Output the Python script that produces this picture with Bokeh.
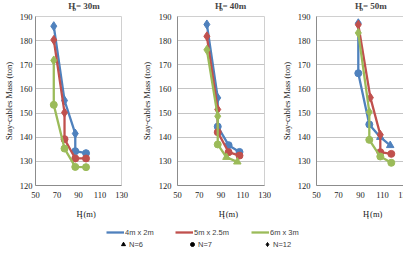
from bokeh.embed import file_html
from bokeh.layouts import column, row
from bokeh.models import ColumnDataSource, Label, Legend, LegendItem, Range1d
from bokeh.plotting import figure
from bokeh.resources import INLINE

# ---- data: tower height H_t (m), stay-cable mass (ton), number of cables N ----
series_names = ["4m x 2m", "5m x 2.5m", "6m x 3m"]
series_colors = ["#4F81BD", "#C0504D", "#9BBB59"]
hb_values = ["30m", "40m", "50m"]

# H_b = 30m
ht_30_4x2 = [67, 77, 87, 87, 97]
mass_30_4x2 = [186.0, 155.2, 141.5, 134.2, 133.4]
n_30_4x2 = [12, 12, 12, 7, 7]
ht_30_5x25 = [67, 77, 77, 87, 97]
mass_30_5x25 = [180.3, 150.2, 139.2, 131.2, 131.2]
n_30_5x25 = [12, 12, 7, 7, 7]
ht_30_6x3 = [67, 67, 77, 87, 97]
mass_30_6x3 = [171.8, 153.4, 135.3, 127.7, 127.6]
n_30_6x3 = [12, 7, 7, 7, 7]

# H_b = 40m
ht_40_4x2 = [77, 87, 87, 97, 107]
mass_40_4x2 = [186.7, 156.3, 144.4, 136.7, 133.9]
n_40_4x2 = [12, 12, 7, 7, 7]
ht_40_5x25 = [77, 87, 87, 97, 107]
mass_40_5x25 = [181.8, 151.5, 142.1, 133.8, 132.4]
n_40_5x25 = [12, 12, 7, 7, 7]
ht_40_6x3 = [77, 87, 87, 95, 105]
mass_40_6x3 = [176.2, 148.7, 137.0, 131.7, 129.8]
n_40_6x3 = [12, 12, 7, 6, 6]

# H_b = 50m
ht_50_4x2 = [88, 88, 98, 108, 117]
mass_50_4x2 = [187.2, 166.5, 145.3, 140.0, 136.6]
n_50_4x2 = [12, 7, 7, 6, 6]
ht_50_5x25 = [88, 99, 108, 108, 118]
mass_50_5x25 = [186.6, 156.4, 141.0, 133.8, 133.1]
n_50_5x25 = [12, 12, 12, 7, 7]
ht_50_6x3 = [88, 98, 98, 108, 118]
mass_50_6x3 = [183.2, 150.4, 138.9, 132.0, 129.4]
n_50_6x3 = [12, 12, 7, 7, 7]

x_ticks = [50, 70, 90, 110, 130]
y_ticks = [120, 130, 140, 150, 160, 170, 180, 190]
n_values = [6, 7, 12]

panels = [
    [(ht_30_4x2, mass_30_4x2, n_30_4x2), (ht_30_5x25, mass_30_5x25, n_30_5x25), (ht_30_6x3, mass_30_6x3, n_30_6x3)],
    [(ht_40_4x2, mass_40_4x2, n_40_4x2), (ht_40_5x25, mass_40_5x25, n_40_5x25), (ht_40_6x3, mass_40_6x3, n_40_6x3)],
    [(ht_50_4x2, mass_50_4x2, n_50_4x2), (ht_50_5x25, mass_50_5x25, n_50_5x25), (ht_50_6x3, mass_50_6x3, n_50_6x3)],
]

# ---- styling ----
MARKERS = {6: "triangle", 7: "circle", 12: "diamond"}
SIZES = {6: 7.5, 7: 7, 12: 9}
SERIF = "Liberation Serif"
SANS = "Liberation Sans"
GRID = "#C4C4C4"
AXIS = "#8C8C8C"
INK = "#222222"

# per-panel frame geometry: (left border, frame width, right border)
geometry = [(31, 86, 17), (34, 87, 14), (34, 88, 12)]
tick_standoff = [3, 6, 6]
ylabel_standoff = [3, 4, 3]
title_cx = [72, 80, 80]     # title centre, px from panel's left edge
xlabel_cx = [79, 80, 86]    # x-axis title centre, px from panel's left edge

TOP_H, MAIN_TOP, FRAME_H, MAIN_BOTTOM, BOT_H = 12, 4, 169, 22, 15


def text_strip(width, height):
    """Blank canvas whose data units are pixels, used for composed titles."""
    s = figure(width=width, height=height, x_range=Range1d(0, width), y_range=Range1d(0, height),
               output_backend="svg", toolbar_location=None,
               x_axis_location=None, y_axis_location=None, min_border=0)
    s.grid.visible = False
    s.outline_line_color = None
    return s


def make_panel(i):
    left, fw, right = geometry[i]
    width = left + fw + right
    p = figure(
        width=width, height=MAIN_TOP + FRAME_H + MAIN_BOTTOM,
        frame_width=fw, frame_height=FRAME_H,
        min_border_left=left, min_border_right=right,
        min_border_top=MAIN_TOP, min_border_bottom=MAIN_BOTTOM,
        x_range=Range1d(50, 130), y_range=Range1d(120, 190),
        output_backend="svg", toolbar_location=None,
    )
    p.xgrid.visible = False
    p.ygrid.grid_line_color = GRID
    p.outline_line_color = "#D0D0D0"
    for ax in (p.xaxis[0], p.yaxis[0]):
        ax.major_tick_out = 0
        ax.major_tick_in = 0
        ax.minor_tick_line_color = None
        ax.axis_line_color = AXIS
        ax.major_label_text_font = SERIF
        ax.major_label_text_font_size = "8.5px"
        ax.major_label_text_color = INK
    p.xaxis.ticker = x_ticks
    p.yaxis.ticker = y_ticks
    p.xaxis.major_label_standoff = 6
    p.yaxis.major_label_standoff = tick_standoff[i]
    p.yaxis.axis_label = "Stay-cables Mass (ton)"
    p.yaxis.axis_label_text_font = SERIF
    p.yaxis.axis_label_text_font_size = "8.5px"
    p.yaxis.axis_label_text_font_style = "normal"
    p.yaxis.axis_label_text_color = INK
    p.yaxis.axis_label_standoff = ylabel_standoff[i]

    for (ht, mass, n), color in zip(panels[i], series_colors):
        src = ColumnDataSource(dict(
            x=ht, y=mass,
            marker=[MARKERS[k] for k in n],
            size=[SIZES[k] for k in n],
        ))
        p.line("x", "y", source=src, line_color=color, line_width=2.3)
        p.scatter("x", "y", source=src, marker="marker", size="size",
                  fill_color=color, line_color=color)

    # title strip:  H_b = ..m
    top = text_strip(width, TOP_H)
    x0 = title_cx[i] - 18.4
    ty = 6.5
    top.add_layout(Label(x=x0, y=ty, text="H", text_font=SERIF, text_font_style="bold",
                         text_font_size="9px", text_baseline="middle", text_align="left"))
    top.add_layout(Label(x=x0 + 7, y=ty - 2.5, text="b", text_font=SERIF, text_font_style="bold",
                         text_font_size="6.5px", text_baseline="middle", text_align="left"))
    top.add_layout(Label(x=x0 + 12.4, y=ty, text="= " + hb_values[i], text_font=SERIF,
                         text_font_style="bold", text_font_size="9px",
                         text_baseline="middle", text_align="left"))

    # x-axis title strip:  H_t (m)
    bot = text_strip(width, BOT_H)
    x0 = xlabel_cx[i] - 12
    by = 8.5
    bot.add_layout(Label(x=x0, y=by, text="H", text_font=SERIF, text_font_size="8.5px",
                         text_baseline="middle", text_align="left", text_color=INK))
    bot.add_layout(Label(x=x0 + 6.6, y=by - 2.5, text="t", text_font=SERIF, text_font_size="7px",
                         text_baseline="middle", text_align="left", text_color=INK))
    bot.add_layout(Label(x=x0 + 11.5, y=by, text="(m)", text_font=SERIF, text_font_size="8.5px",
                         text_baseline="middle", text_align="left", text_color=INK))

    return column(top, p, bot, spacing=0)


charts = [make_panel(i) for i in range(3)]

# ---- shared legend strip ----
leg = figure(width=403, height=31, x_range=Range1d(0, 1), y_range=Range1d(0, 1),
             output_backend="svg", toolbar_location=None,
             x_axis_location=None, y_axis_location=None, min_border=0)
leg.grid.visible = False
leg.outline_line_color = None

# key-only renderers: their single point sits outside the visible range
line_items = []
for name, color in zip(series_names, series_colors):
    r = leg.line(x=[-5, -4], y=[-5, -4], line_color=color, line_width=2.3)
    line_items.append(LegendItem(label=name, renderers=[r]))
marker_items = []
for n in n_values:
    r = leg.scatter(x=[-5], y=[-5], marker=MARKERS[n], size=6,
                    fill_color="black", line_color="black")
    marker_items.append(LegendItem(label="N=%d" % n, renderers=[r]))

row1_x = [106, 175, 251]
row2_x = [118, 187, 262]
for items, xs, bottom, gw in ((line_items, row1_x, 15, 18), (marker_items, row2_x, 3, 10)):
    for item, x0 in zip(items, xs):
        lg = Legend(items=[item], location=(x0, bottom), padding=0, margin=0,
                    border_line_color=None, background_fill_alpha=0,
                    glyph_width=gw, glyph_height=12, label_standoff=1,
                    label_text_font=SANS, label_text_font_size="7.5px",
                    label_text_color="#404040", label_height=12)
        leg.add_layout(lg)

layout = column(row(*charts, spacing=0), leg, spacing=0)

open("out.html", "w").write(file_html(layout, INLINE))
